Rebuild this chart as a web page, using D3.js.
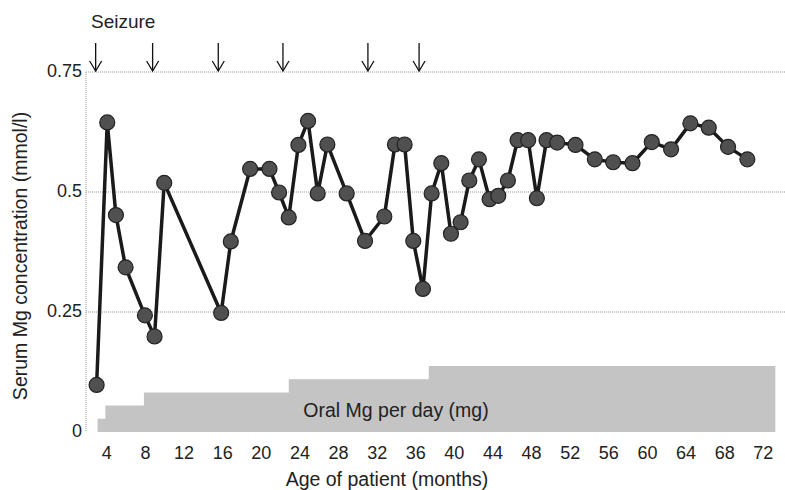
<!DOCTYPE html>
<html>
<head>
<meta charset="utf-8">
<script src="https://cdn.jsdelivr.net/npm/d3@7"></script>
<style>
  body { margin: 0; background: #fff; }
  text { font-family: "Liberation Sans", Arial, sans-serif; fill: #222; }
</style>
</head>
<body>
<svg width="785" height="490"></svg>
<script>
// serum Mg measurements (age in months, mmol/l)
var months = [3.1, 4.2, 5.1, 6.1, 8.1, 9.1, 10.1, 16, 17, 19, 21, 22, 23, 24, 25,
  26, 27, 29, 30.9, 32.9, 34, 35, 35.9, 36.9, 37.8, 38.8, 39.8, 40.8, 41.7, 42.7,
  43.8, 44.7, 45.7, 46.7, 47.8, 48.7, 49.7, 50.8, 52.7, 54.7, 56.6, 58.6, 60.6,
  62.6, 64.6, 66.5, 68.5, 70.5];
var serumMg = [0.098, 0.645, 0.452, 0.343, 0.243, 0.199, 0.519, 0.248, 0.397, 0.548,
  0.548, 0.499, 0.447, 0.598, 0.648, 0.497, 0.599, 0.497, 0.398, 0.449, 0.599, 0.599,
  0.398, 0.298, 0.497, 0.56, 0.413, 0.437, 0.524, 0.568, 0.485, 0.492, 0.524, 0.608,
  0.608, 0.487, 0.608, 0.603, 0.598, 0.568, 0.562, 0.56, 0.604, 0.589, 0.643, 0.634,
  0.594, 0.568];

// oral Mg dose steps
var doseStart = [3.2, 4, 8, 23, 37.5, 73.4];
var doseMg = [100, 200, 300, 400, 500, 500];

var seizureMonths = [3, 8.9, 15.7, 22.4, 31.2, 36.5];

var xTicks = [4, 8, 12, 16, 20, 24, 28, 32, 36, 40, 44, 48, 52, 56, 60, 64, 68, 72];
var yTicks = [0, 0.25, 0.5, 0.75];
var yTickLabels = ["0", "0.25", "0.5", "0.75"];

var svg = d3.select("svg");

var x = d3.scaleLinear().domain([2, 74.4]).range([86, 785]);
var y = d3.scaleLinear().domain([0, 0.75]).range([432, 72]);
var yDose = d3.scaleLinear().domain([0, 500]).range([432, 366]);

// dose area
var doseData = doseStart.map(function(m, i) { return {m: m, mg: doseMg[i]}; });
var area = d3.area()
  .curve(d3.curveStepAfter)
  .x(function(d) { return x(d.m); })
  .y0(y(0))
  .y1(function(d) { return yDose(d.mg); });
svg.append("path")
  .datum(doseData)
  .attr("d", area)
  .attr("fill", "#c4c4c4");

svg.append("text")
  .attr("x", 396).attr("y", 417)
  .attr("text-anchor", "middle")
  .attr("font-size", 19.5)
  .text("Oral Mg per day (mg)");

// grid lines
svg.selectAll(".grid")
  .data(yTicks.filter(function(d) { return d > 0; }))
  .enter().append("line")
  .attr("x1", x.range()[0]).attr("x2", x.range()[1])
  .attr("y1", function(d) { return y(d); })
  .attr("y2", function(d) { return y(d); })
  .attr("stroke", "#999")
  .attr("stroke-dasharray", "1,1");

svg.append("line")
  .attr("x1", 86).attr("x2", 86)
  .attr("y1", y(0.75)).attr("y2", y(0))
  .attr("stroke", "#999")
  .attr("stroke-dasharray", "1,1");

// y tick labels
svg.selectAll(".ytick")
  .data(yTicks)
  .enter().append("text")
  .attr("x", 82)
  .attr("y", function(d) { return y(d) + 5; })
  .attr("text-anchor", "end")
  .attr("font-size", 18)
  .text(function(d, i) { return yTickLabels[i]; });

// x tick labels
svg.selectAll(".xtick")
  .data(xTicks)
  .enter().append("text")
  .attr("x", function(d) { return x(d) + 1.5; })
  .attr("y", 459)
  .attr("text-anchor", "middle")
  .attr("font-size", 18)
  .text(function(d) { return d; });

svg.append("text")
  .attr("x", 387).attr("y", 486)
  .attr("text-anchor", "middle")
  .attr("font-size", 19.5)
  .text("Age of patient (months)");

svg.append("text")
  .attr("transform", "translate(27,256) rotate(-90)")
  .attr("text-anchor", "middle")
  .attr("font-size", 19.5)
  .text("Serum Mg concentration (mmol/l)");

// seizure arrows
svg.append("text")
  .attr("x", 91).attr("y", 28)
  .attr("font-size", 19)
  .text("Seizure");

var arrows = svg.selectAll(".arrow")
  .data(seizureMonths)
  .enter().append("g")
  .attr("transform", function(d) { return "translate(" + x(d) + ",0)"; });
arrows.append("line")
  .attr("x1", 0).attr("x2", 0).attr("y1", 43).attr("y2", 71)
  .attr("stroke", "#111").attr("stroke-width", 1.3);
arrows.append("path")
  .attr("d", "M-6,61 L0,71 L6,61")
  .attr("fill", "none")
  .attr("stroke", "#111").attr("stroke-width", 1.3);

// serum line and points
var pts = months.map(function(m, i) { return {m: m, v: serumMg[i]}; });
var line = d3.line()
  .x(function(d) { return x(d.m); })
  .y(function(d) { return y(d.v); });
svg.append("path")
  .datum(pts)
  .attr("d", line)
  .attr("fill", "none")
  .attr("stroke", "#1a1a1a")
  .attr("stroke-width", 3.5)
  .attr("stroke-linejoin", "round");

svg.selectAll(".pt")
  .data(pts)
  .enter().append("circle")
  .attr("cx", function(d) { return x(d.m); })
  .attr("cy", function(d) { return y(d.v); })
  .attr("r", 7.5)
  .attr("fill", "#505050")
  .attr("stroke", "#222")
  .attr("stroke-width", 1.2);
</script>
</body>
</html>
